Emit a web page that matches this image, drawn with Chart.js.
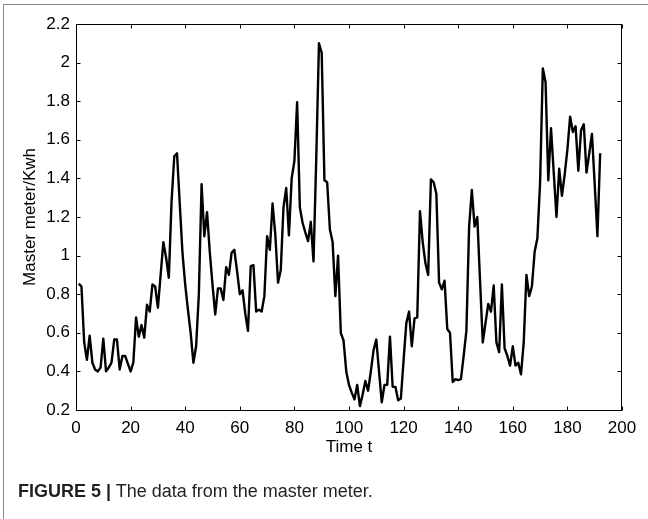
<!DOCTYPE html>
<html>
<head>
<meta charset="utf-8">
<title>Master meter</title>
<script src="https://cdn.jsdelivr.net/npm/chart.js@4.4.1/dist/chart.umd.min.js"></script>
<style>
  html, body { margin: 0; padding: 0; background: #fff; overflow: hidden; }
  #frame { position: absolute; left: 3px; top: 4px; width: 700px; height: 600px;
           border-top: 1px solid #8a8a8a; border-left: 1px solid #8a8a8a; }
  #wrap { position: absolute; left: 0; top: 0; width: 648px; height: 519px; }
  #caption { position: absolute; left: 18px; top: 481px; white-space: nowrap;
             font: 18px "Liberation Sans", Arial, sans-serif; color: #231f20; }
</style>
</head>
<body>
<div id="frame"></div>
<div id="wrap"><canvas id="meterChart" width="648" height="519"></canvas></div>
<div id="caption"><b>FIGURE 5 |</b> The data from the master meter.</div>

<script>
// valeurs (t = 1..192)
const meterKwh = [
  0.855, 0.84, 0.55, 0.46, 0.585, 0.445, 0.41, 0.40, 0.42, 0.57,
  0.40, 0.42, 0.445, 0.565, 0.565, 0.41, 0.48, 0.48, 0.44, 0.40,
  0.445, 0.68, 0.58, 0.64, 0.575, 0.745, 0.71, 0.85, 0.84, 0.73,
  0.90, 1.07, 0.99, 0.885, 1.28, 1.515, 1.53, 1.27, 1.015, 0.85,
  0.72, 0.60, 0.445, 0.53, 0.80, 1.37, 1.10, 1.225, 1.02, 0.85,
  0.695, 0.83, 0.83, 0.77, 0.94, 0.90, 1.015, 1.03, 0.92, 0.80,
  0.82, 0.70, 0.61, 0.945, 0.95, 0.71, 0.72, 0.71, 0.79, 1.10,
  1.03, 1.27, 1.11, 0.86, 0.925, 1.25, 1.35, 1.105, 1.40, 1.49,
  1.795, 1.25, 1.17, 1.12, 1.075, 1.175, 0.97, 1.50, 2.10, 2.05,
  1.39, 1.38, 1.135, 1.07, 0.79, 1.00, 0.60, 0.56, 0.40, 0.33,
  0.29, 0.255, 0.33, 0.22, 0.28, 0.35, 0.30, 0.40, 0.51, 0.565,
  0.40, 0.24, 0.33, 0.33, 0.58, 0.32, 0.32, 0.25, 0.26, 0.46,
  0.65, 0.71, 0.53, 0.675, 0.68, 1.23, 1.07, 0.96, 0.90, 1.395,
  1.38, 1.32, 0.86, 0.825, 0.87, 0.62, 0.60, 0.345, 0.36, 0.355,
  0.36, 0.48, 0.61, 1.15, 1.34, 1.15, 1.20, 0.87, 0.55, 0.65,
  0.75, 0.71, 0.845, 0.55, 0.50, 0.85, 0.52, 0.48, 0.43, 0.53,
  0.43, 0.445, 0.385, 0.55, 0.90, 0.79, 0.84, 1.02, 1.09, 1.38,
  1.97, 1.90, 1.39, 1.66, 1.43, 1.20, 1.45, 1.31, 1.42, 1.55,
  1.72, 1.64, 1.67, 1.44, 1.65, 1.68, 1.43, 1.53, 1.63, 1.37,
  1.10, 1.53
];
// numéro de l'échantillon
const timeSteps = meterKwh.map((v, i) => i + 1);

const xTickValues = [0, 20, 40, 60, 80, 100, 120, 140, 160, 180, 200];
const yTickValues = [0.2, 0.4, 0.6, 0.8, 1, 1.2, 1.4, 1.6, 1.8, 2, 2.2];

const FONT = '"Liberation Sans", Arial, sans-serif';

// cadre noir + graduations vers l'intérieur, façon MATLAB
const matlabBox = {
  id: 'matlabBox',
  afterDatasetsDraw(chart) {
    const { ctx, chartArea: a, scales: { x, y } } = chart;
    const L = Math.round(a.left) + 0.5, R = Math.round(a.right) - 0.5;
    const T = Math.round(a.top) + 0.5, B = Math.round(a.bottom) + 0.5;
    const len = 4;
    ctx.save();
    ctx.strokeStyle = '#000';
    ctx.lineWidth = 1;
    ctx.strokeRect(L, T, R - L, B - T);
    ctx.beginPath();
    xTickValues.forEach(v => {
      const px = Math.round(x.getPixelForValue(v)) + 0.5;
      ctx.moveTo(px, B); ctx.lineTo(px, B - len);
      ctx.moveTo(px, T); ctx.lineTo(px, T + len);
    });
    yTickValues.forEach(v => {
      const py = Math.round(y.getPixelForValue(v)) + 0.5;
      ctx.moveTo(L, py); ctx.lineTo(L + len, py);
      ctx.moveTo(R, py); ctx.lineTo(R - len, py);
    });
    ctx.stroke();
    ctx.restore();
  }
};

const ctx = document.getElementById('meterChart').getContext('2d');
new Chart(ctx, {
  type: 'line',
  data: {
    labels: timeSteps,
    datasets: [{
      label: 'Master meter',
      data: meterKwh,
      borderColor: '#000',
      borderWidth: 2.4,
      borderJoinStyle: 'round',
      pointRadius: 0,
      tension: 0,
      fill: false
    }]
  },
  options: {
    responsive: false,
    animation: false,
    devicePixelRatio: 1,
    layout: { padding: { left: 0, top: 24, right: 26, bottom: 61 } },
    plugins: { legend: { display: false }, tooltip: { enabled: false } },
    scales: {
      x: {
        type: 'linear',
        min: 0, max: 200,
        grid: { display: false, drawTicks: false },
        border: { display: false },
        afterBuildTicks: s => { s.ticks = xTickValues.map(v => ({ value: v })); },
        afterFit: s => { s.height = 48; },
        ticks: { color: '#000', padding: 8, maxRotation: 0, font: { family: FONT, size: 17 } },
        title: { display: true, text: 'Time t', color: '#000', padding: 0,
                 font: { family: FONT, size: 17 } }
      },
      y: {
        min: 0.2, max: 2.2,
        grid: { display: false, drawTicks: false },
        border: { display: false },
        afterBuildTicks: s => { s.ticks = yTickValues.map(v => ({ value: v })); },
        afterFit: s => { s.width = 76; },
        ticks: { color: '#000', padding: 6, font: { family: FONT, size: 17 },
                 callback: v => String(+v.toFixed(1)) },
        title: { display: true, text: 'Master meter/Kwh', color: '#000',
                 padding: { top: 20, bottom: 0 }, font: { family: FONT, size: 17 } }
      }
    }
  },
  plugins: [matlabBox]
});
</script>
</body>
</html>
